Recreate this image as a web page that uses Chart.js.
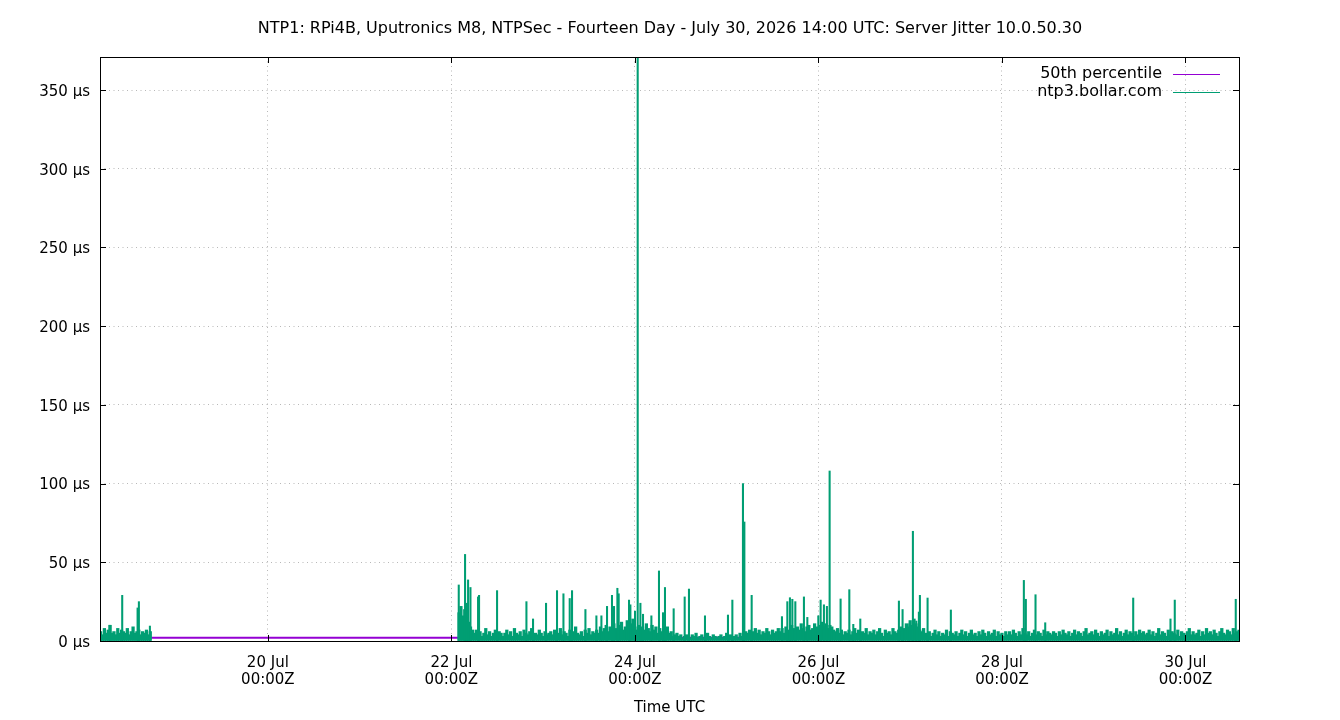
<!DOCTYPE html>
<html>
<head>
<meta charset="utf-8">
<title>Server Jitter 10.0.50.30</title>
<script src="https://cdn.jsdelivr.net/npm/chart.js@4/dist/chart.umd.min.js"></script>
<style>
  html, body { margin: 0; padding: 0; background: #fff; }
</style>
</head>
<body>
<canvas id="jitter" width="1340" height="720"></canvas>
<script>
// Fourteen day server jitter, x in hours since 18 Jul 00:00 UTC
const chartTitle = 'NTP1: RPi4B, Uputronics M8, NTPSec - Fourteen Day - July 30, 2026 14:00 UTC: Server Jitter 10.0.50.30';
const seriesLabels = ['50th percentile', 'ntp3.bollar.com'];

const xMin = 4.1, xMax = 302;
const xTickHours = [48, 96, 144, 192, 240, 288];
const xTickLabels = [['20 Jul', '00:00Z'], ['22 Jul', '00:00Z'], ['24 Jul', '00:00Z'],
                     ['26 Jul', '00:00Z'], ['28 Jul', '00:00Z'], ['30 Jul', '00:00Z']];
const yTicks = [0, 50, 100, 150, 200, 250, 300, 350];
const yMax = 371;

const p50 = 2; // µs

// background jitter, one value every half hour
const baseStepH = 0.5;
const baseStartA = 4.25;
const baseA = [6,4,8,5,7,10,5,6,4,8,5,7,6,5,8,4,6,9,5,6,7,4,6,5,7,4,6];
const baseStartB = 98;
const baseB = [
  18,22,16,20,15,12,9,7,5,7,4,6,3,5,8,4,6,3,5,7,4,6,5,3,
  5,7,4,6,3,8,5,4,6,3,7,5,4,6,8,3,5,4,7,5,3,6,4,5,
  6,4,7,3,5,8,4,6,5,3,7,4,6,9,5,4,6,3,7,5,8,4,6,5,
  7,5,9,6,8,10,6,9,7,11,8,6,10,12,7,9,13,8,11,14,9,7,10,8,
  9,7,11,8,6,10,7,9,5,8,6,7,4,9,5,6,3,4,5,3,4,2,3,4,
  3,2,4,3,5,2,3,4,2,3,5,3,2,4,3,2,3,4,2,3,5,3,4,2,
  3,4,2,5,3,4,6,5,7,4,6,8,5,7,4,6,5,8,6,4,7,5,6,8,
  6,8,5,9,7,6,10,8,6,9,7,11,8,6,9,10,7,8,11,9,8,10,12,9,
  11,8,10,9,7,6,8,5,7,4,6,5,7,4,6,8,5,7,4,6,5,8,4,6,
  5,7,4,6,8,5,3,7,5,6,4,8,6,5,7,9,6,8,11,9,13,10,14,11,
  9,7,6,8,5,4,6,3,5,7,4,6,3,5,4,7,3,6,5,4,6,3,5,7,
  4,6,3,5,7,4,5,3,6,4,7,5,3,6,4,5,7,3,6,4,5,3,6,4,
  6,4,7,5,3,6,4,8,5,4,6,3,5,7,4,6,5,3,7,4,6,5,4,6,
  5,3,6,4,7,5,4,6,3,5,7,4,6,5,3,6,8,4,5,6,4,7,5,3,
  6,4,5,7,3,6,4,5,8,4,6,3,5,7,4,6,5,3,6,4,7,5,6,4,
  5,7,4,6,3,5,8,4,6,5,3,7,4,6,5,4,7,3,6,5,4,6,8,4,
  6,4,5,7,3,6,4,8,5,6,4,7,5,3,6,8,5,4,7,6,4,8,5,6,
  7
];

// individual spikes
const spikeHours = [
  6.6, 9.91, 13.93, 14.27, 17.15,
  97.93, 99.58, 100.03, 100.37, 100.99, 102.98, 103.24, 107.95, 115.63, 117.36,
  120.76, 123.63, 125.31, 126.95, 127.56, 131.06, 133.93, 135.24, 136.71, 138.01,
  138.54, 139.42, 139.76, 142.46, 142.82, 144.03, 144.73, 145.44, 146.12, 148.31,
  150.30, 151.35, 151.87, 154.14, 157.02, 158.14, 162.33, 168.34, 169.49, 172.26,
  172.63, 174.54, 182.46, 183.87, 184.55, 185.18, 185.96, 188.21, 189.10, 191.97,
  192.58, 193.44, 194.22, 194.93, 197.80, 200.08, 201.12, 202.95, 213.05, 214.01,
  215.76, 216.71, 217.60, 218.27, 218.54, 220.55, 226.64, 245.73, 246.25, 248.78,
  251.32, 274.33, 284.08, 285.20, 301.15
];
const spikeValues = [
  10, 29, 21, 25, 9.5,
  35.6, 55, 24, 38.8, 34, 28, 29, 32, 25, 14,
  24, 32, 30, 27, 32, 20, 16, 16, 22, 29,
  22, 33.5, 30, 26, 23, 19, 400, 24, 17, 16,
  44.5, 18, 34, 20.5, 28, 33, 16, 16.5, 26, 100,
  75.6, 29, 15.5, 25, 27.5, 26.5, 25, 28, 15, 16,
  26, 23, 22, 108, 26.7, 32.6, 10.6, 14, 25.4, 20,
  11, 69.7, 12.7, 18.4, 29, 27.3, 19.7, 38.5, 26.5, 29.4,
  11.6, 27.3, 14, 26, 26.5
];

const green = '#009e73';
const purple = '#9400d3';
const fontFamily = '"DejaVu Sans", sans-serif';

const basePoints = baseA.map((v, i) => ({ x: baseStartA + i * baseStepH, y: v }))
  .concat(baseB.map((v, i) => ({ x: baseStartB + i * baseStepH, y: v })));
const spikePoints = spikeHours.map((h, i) => ({ x: h, y: spikeValues[i] }));

// gnuplot style frame, inward ticks, title and key
const gnuplotDecor = {
  id: 'gnuplotDecor',
  afterDraw(chart) {
    const { ctx, chartArea: a, scales } = chart;
    ctx.save();
    ctx.strokeStyle = '#000';
    ctx.lineWidth = 1;
    ctx.beginPath();
    yTicks.forEach(v => {
      const y = Math.round(scales.y.getPixelForValue(v)) + 0.5;
      ctx.moveTo(a.left, y); ctx.lineTo(a.left + 6, y);
      ctx.moveTo(a.right, y); ctx.lineTo(a.right - 6, y);
    });
    xTickHours.forEach(h => {
      const x = Math.round(scales.x.getPixelForValue(h)) + 0.5;
      ctx.moveTo(x, a.bottom); ctx.lineTo(x, a.bottom - 6);
      ctx.moveTo(x, a.top); ctx.lineTo(x, a.top + 6);
    });
    ctx.stroke();
    ctx.strokeRect(Math.round(a.left) + 0.5, Math.round(a.top) + 0.5,
                   Math.round(a.right - a.left), Math.round(a.bottom - a.top));

    ctx.fillStyle = '#000';
    ctx.font = '16px ' + fontFamily;
    ctx.textAlign = 'center';
    ctx.textBaseline = 'middle';
    ctx.fillText(chartTitle, 670, 29);

    // key
    const colors = [purple, green];
    ctx.textAlign = 'right';
    seriesLabels.forEach((lbl, i) => {
      const y = 74 + i * 18;
      ctx.fillStyle = '#000';
      ctx.fillText(lbl, 1162, y);
      ctx.strokeStyle = colors[i];
      ctx.beginPath();
      ctx.moveTo(1173, y + 0.5); ctx.lineTo(1220, y + 0.5);
      ctx.stroke();
    });
    ctx.restore();
  }
};

const gridStyle = { color: 'rgba(0,0,0,0.28)', drawTicks: false, offset: false };

new Chart(document.getElementById('jitter'), {
  type: 'bar',
  data: {
    datasets: [
      {
        type: 'line', label: seriesLabels[0], order: 3,
        data: [{ x: xMin, y: p50 }, { x: xMax, y: p50 }],
        borderColor: purple, borderWidth: 2, pointRadius: 0
      },
      {
        label: seriesLabels[1], order: 2, data: basePoints,
        backgroundColor: green, barThickness: 2.6, grouped: false
      },
      {
        label: seriesLabels[1], order: 1, data: spikePoints,
        backgroundColor: green, barThickness: 1.4, grouped: false
      }
    ]
  },
  options: {
    responsive: false,
    animation: false,
    devicePixelRatio: 1,
    layout: { padding: { top: 57, right: 101, left: 0, bottom: 0 } },
    plugins: { legend: { display: false }, tooltip: { enabled: false }, title: { display: false } },
    scales: {
      x: {
        type: 'linear', min: xMin, max: xMax, offset: false,
        grid: gridStyle,
        border: { display: false, dash: [1, 3.5] },
        afterBuildTicks: s => { s.ticks = xTickHours.map(v => ({ value: v })); },
        afterFit: s => { s.height = 79; },
        ticks: {
          autoSkip: false, maxRotation: 0, padding: 14, color: '#000',
          font: { family: fontFamily, size: 15, lineHeight: 1.1 },
          callback: (v) => xTickLabels[xTickHours.indexOf(v)]
        },
        title: {
          display: true, text: 'Time UTC', color: '#000',
          font: { family: fontFamily, size: 15 }, padding: { top: 0, bottom: 3 }
        }
      },
      y: {
        type: 'linear', min: 0, max: yMax,
        grid: gridStyle,
        border: { display: false, dash: [1, 3.5] },
        afterBuildTicks: s => { s.ticks = yTicks.map(v => ({ value: v })); },
        afterFit: s => { s.width = 100; },
        ticks: {
          padding: 10, color: '#000', labelOffset: 2,
          font: { family: fontFamily, size: 15 },
          callback: v => v + ' µs'
        }
      }
    }
  },
  plugins: [gnuplotDecor]
});
</script>
</body>
</html>
